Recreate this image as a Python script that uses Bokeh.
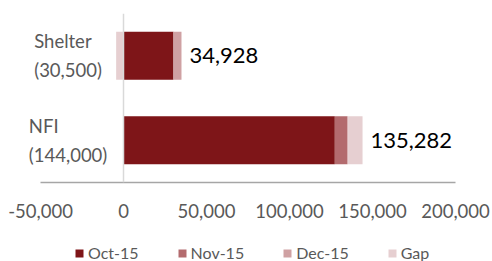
import numpy as np
from bokeh.plotting import figure
from bokeh.layouts import column
from bokeh.models import (ColumnDataSource, Range1d, FactorRange, FixedTicker,
                          NumeralTickFormatter, Span, Legend, LabelSet)
from bokeh.core.properties import value
from bokeh.embed import file_html
from bokeh.resources import INLINE

# ---- data ----
categories = ["Shelter", "NFI"]
targets = [30500, 144000]
series_names = ["Oct-15", "Nov-15", "Dec-15", "Gap"]
oct15 = [30100, 127300]
nov15 = [0, 7500]
dec15 = [4828, 482]
gap = [-4428, 8718]
totals = [34928, 135282]
x_ticks = [-50000, 0, 50000, 100000, 150000, 200000]

colors = ["#7E1518", "#B36B6E", "#CFA1A3", "#E6CFD1"]
FONT = "Lato"

p = figure(width=492, height=230, output_backend="svg", toolbar_location=None,
           x_range=Range1d(-62050, 200000),
           y_range=FactorRange(factors=categories[::-1], range_padding=0),
           y_axis_location=None,
           min_border_left=20, min_border_right=37, min_border_top=13,
           min_border_bottom=48)
p.outline_line_color = None
p.xgrid.visible = False
p.ygrid.visible = False

# zero line
p.add_layout(Span(location=0, dimension="height", line_color="#D9D9D9",
                  line_width=1.5))

# stacked bars (positive to the right, negative to the left, like Excel)
pos = np.zeros(len(categories))
neg = np.zeros(len(categories))
for name, vals, col in zip(series_names, [oct15, nov15, dec15, gap], colors):
    v = np.array(vals, dtype=float)
    left = np.where(v >= 0, pos, neg + v)
    right = np.where(v >= 0, pos + v, neg)
    pos = np.where(v >= 0, pos + v, pos)
    neg = np.where(v < 0, neg + v, neg)
    src = ColumnDataSource(dict(y=categories, left=left, right=right))
    p.hbar(y="y", left="left", right="right", height=0.57, source=src,
           fill_color=col, line_color=None)

# value labels at end of bars
lab_src = ColumnDataSource(dict(x=pos, y=categories,
                                t=[f"{t:,}" for t in totals]))
p.add_layout(LabelSet(x="x", y="y", text="t", source=lab_src, x_offset=8,
                      text_baseline="middle", text_align="left",
                      text_color="#000000", text_font=value(FONT),
                      text_font_size="22px"))

# category labels
cat_src = ColumnDataSource(dict(x=[-33400] * len(categories), y=categories,
                                t=[f"{c}\n({t:,})" for c, t in zip(categories, targets)]))
p.add_layout(LabelSet(x="x", y="y", text="t", source=cat_src,
                      text_align="center", text_baseline="middle",
                      text_color="#595959", text_font=value(FONT),
                      text_font_size="18.5px", text_line_height=1.3))

# x axis
ax = p.xaxis[0]
ax.ticker = FixedTicker(ticks=x_ticks)
ax.bounds = (x_ticks[0], x_ticks[-1])
ax.formatter = NumeralTickFormatter(format="0,0")
ax.axis_line_color = "#A6A6A6"
ax.axis_line_width = 1.5
ax.major_tick_line_color = None
ax.minor_tick_line_color = None
ax.major_tick_out = 0
ax.major_label_standoff = 21
ax.major_label_text_font = FONT
ax.major_label_text_font_size = "18.5px"
ax.major_label_text_color = "#595959"

# legend strip (separate figure so the legend is not clipped)
lg = figure(width=492, height=31, output_backend="svg", toolbar_location=None,
            x_range=Range1d(0, 1), y_range=Range1d(0, 1),
            x_axis_location=None, y_axis_location=None,
            min_border_left=0, min_border_right=0, min_border_top=0,
            min_border_bottom=0)
lg.outline_line_color = None
lg.xgrid.visible = False
lg.ygrid.visible = False
items = []
for name, col in zip(series_names, colors):
    # zero-size placeholder: only its colour is used by the legend swatch
    r = lg.hbar(y=[0], left=[0], right=[0], height=0, fill_color=col,
                line_color=None)
    items.append((name, [r]))
legend = Legend(items=items, orientation="horizontal", location=(54, -1),
                glyph_width=10, glyph_height=10, label_standoff=4, spacing=38,
                label_text_font=FONT, label_text_font_size="16px",
                label_text_color="#595959", border_line_color=None,
                background_fill_alpha=0, padding=0, margin=0,
                label_height=10)
lg.add_layout(legend, "center")

layout = column(p, lg, spacing=0)
open("out.html", "w").write(file_html(layout, INLINE))
